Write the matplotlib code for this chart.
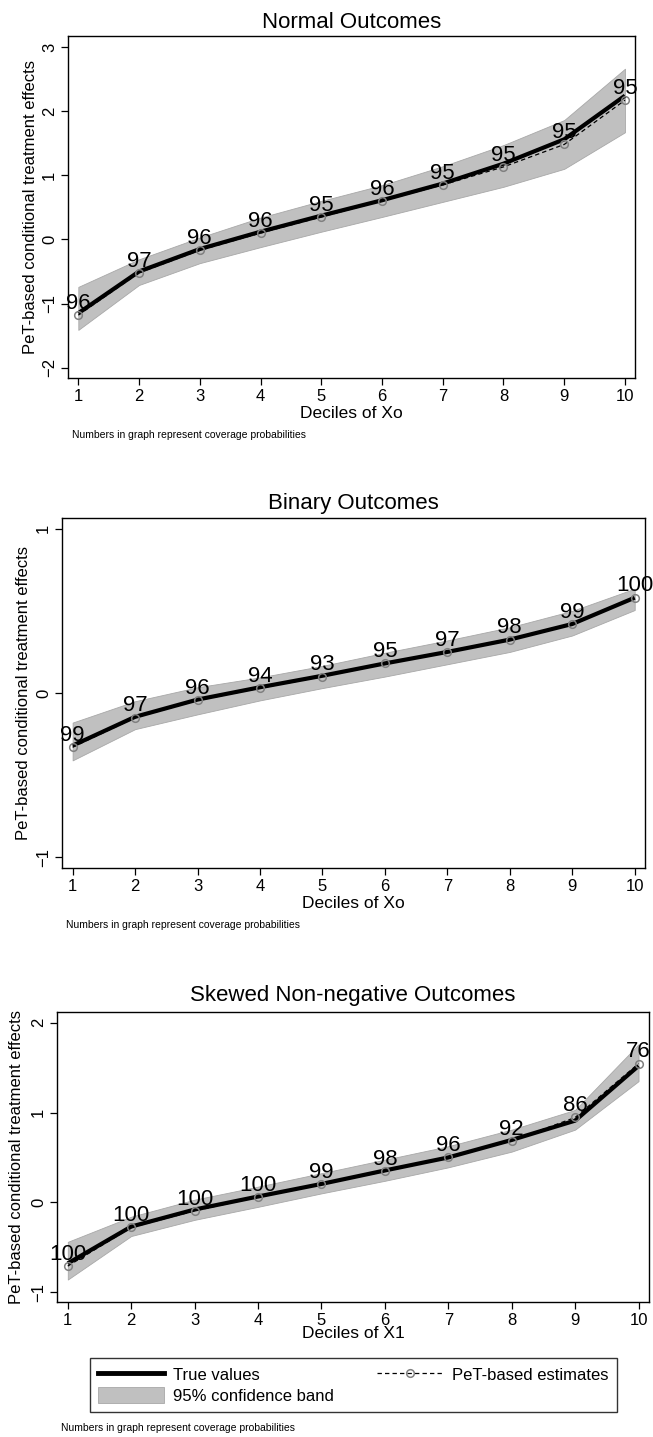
import numpy as np
import matplotlib
matplotlib.use('Agg')
import matplotlib.pyplot as plt
from matplotlib.patches import Patch
from matplotlib.lines import Line2D

plt.rcParams['font.family'] = ['Liberation Sans', 'DejaVu Sans']

# Data
deciles = [1, 2, 3, 4, 5, 6, 7, 8, 9, 10]

titles = ['Normal Outcomes', 'Binary Outcomes', 'Skewed Non-negative Outcomes']
xlabels = ['Deciles of Xo', 'Deciles of Xo', 'Deciles of X1']
ylabel = 'PeT-based conditional treatment effects'
note = 'Numbers in graph represent coverage probabilities'

normal_true = [-1.15, -0.50, -0.15, 0.12, 0.37, 0.61, 0.87, 1.18, 1.56, 2.24]
normal_est = [-1.18, -0.52, -0.17, 0.10, 0.35, 0.60, 0.85, 1.13, 1.48, 2.17]
normal_lo = [-1.41, -0.71, -0.37, -0.12, 0.12, 0.35, 0.585, 0.82, 1.10, 1.67]
normal_hi = [-0.74, -0.31, 0.03, 0.34, 0.60, 0.845, 1.14, 1.47, 1.86, 2.66]
normal_cov = [96, 97, 96, 96, 95, 96, 95, 95, 95, 95]

binary_true = [-0.32, -0.145, -0.04, 0.035, 0.105, 0.18, 0.25, 0.325, 0.42, 0.58]
binary_est = [-0.33, -0.15, -0.045, 0.03, 0.10, 0.18, 0.25, 0.325, 0.42, 0.58]
binary_lo = [-0.41, -0.22, -0.13, -0.045, 0.03, 0.10, 0.175, 0.25, 0.35, 0.505]
binary_hi = [-0.18, -0.05, 0.035, 0.095, 0.165, 0.245, 0.32, 0.40, 0.50, 0.635]
binary_cov = [99, 97, 96, 94, 93, 95, 97, 98, 99, 100]

skewed_true = [-0.68, -0.27, -0.08, 0.065, 0.205, 0.355, 0.50, 0.695, 0.91, 1.52]
skewed_est = [-0.71, -0.28, -0.095, 0.06, 0.20, 0.345, 0.50, 0.685, 0.945, 1.545]
skewed_lo = [-0.86, -0.375, -0.195, -0.05, 0.10, 0.24, 0.39, 0.565, 0.81, 1.35]
skewed_hi = [-0.44, -0.16, 0.03, 0.175, 0.325, 0.475, 0.625, 0.81, 1.03, 1.76]
skewed_cov = [100, 100, 100, 100, 99, 98, 96, 92, 86, 76]

yticks = [[-2, -1, 0, 1, 2, 3], [-1, 0, 1], [-1, 0, 1, 2]]
ylims = [(-2.16, 3.17), (-1.065, 1.065), (-1.11, 2.12)]

panels = [
    (normal_true, normal_est, normal_lo, normal_hi, normal_cov),
    (binary_true, binary_est, binary_lo, binary_hi, binary_cov),
    (skewed_true, skewed_est, skewed_lo, skewed_hi, skewed_cov),
]

W, H = 653, 1437
fig = plt.figure(figsize=(W / 100, H / 100), dpi=100)

# axes boxes in pixels: left, right, top, bottom
boxes = [(68, 635, 36, 378), (62, 645, 518, 868), (57, 649, 1012, 1302)]
title_y = [22, 503, 995]
ylab_x = [31, 24, 17]

band_c = '#c0c0c0'
band_edge = '#a8a8a8'
ring_c = '#808080'

for i, (true, est, lo, hi, cov) in enumerate(panels):
    l, r, t, b = boxes[i]
    ax = fig.add_axes([l / W, 1 - b / H, (r - l) / W, (b - t) / H])

    ax.fill_between(deciles, lo, hi, facecolor=band_c, edgecolor=band_edge, lw=0.6, zorder=1)
    ax.plot(deciles, true, color='black', lw=3.0, zorder=3, solid_capstyle='butt')
    ax.plot(deciles, est, color='black', lw=0.9, ls=(0, (3.5, 2.5)), marker='o',
            ms=5.5, mfc='none', mec=ring_c, mew=1.1, zorder=4)
    for xv, yv, c in zip(deciles, est, cov):
        ax.annotate(str(c), (xv, yv), xytext=(0, 4.5), textcoords='offset points',
                    ha='center', va='baseline', fontsize=16, zorder=5,
                    annotation_clip=False)

    ax.set_xlim(0.83, 10.165)
    ax.set_ylim(*ylims[i])
    ax.set_xticks(deciles)
    ax.set_yticks(yticks[i])
    ax.tick_params(axis='both', direction='out', length=5, width=0.9, labelsize=12)
    ax.tick_params(axis='x', pad=3)
    ax.tick_params(axis='y', pad=3, labelrotation=90)
    for lab in ax.get_yticklabels():
        lab.set_va('center')
    for s in ax.spines.values():
        s.set_linewidth(1.0)

    cx = (l + r) / 2 / W
    fig.text(cx, 1 - title_y[i] / H, titles[i], ha='center', va='center', fontsize=16)
    xl_y = b + (35 if i < 2 else 32)
    fig.text(cx, 1 - xl_y / H, xlabels[i], ha='center', va='center', fontsize=12.5)
    fig.text(ylab_x[i] / W, 1 - (t + b) / 2 / H, ylabel, rotation=90,
             ha='center', va='center', fontsize=12)

    note_y = b + 57 if i < 2 else 1428
    fig.text((l + 4) / W, 1 - note_y / H, note, ha='left', va='center', fontsize=7.5)

# legend below the last panel
handles = [
    Line2D([], [], color='black', lw=3.5),
    Patch(facecolor=band_c, edgecolor=band_edge, lw=0.6),
    Line2D([], [], color='black', lw=0.9, ls=(0, (3.5, 2.5)), marker='o', ms=5.5,
           mfc='none', mec=ring_c, mew=1.1),
]
labels = ['True values', '95% confidence band', 'PeT-based estimates']
leg = fig.legend(handles, labels, ncol=2, loc='upper left',
                 bbox_to_anchor=(90 / W, 1 - 1358 / H),
                 fontsize=12, frameon=True, fancybox=False,
                 edgecolor='black', handlelength=3.95, handleheight=1.12,
                 handletextpad=0.54, labelspacing=0.22, borderpad=0.5,
                 columnspacing=2.6, borderaxespad=0, numpoints=1)
leg.get_frame().set_linewidth(1.0)

fig.savefig('out.png', dpi=100)
